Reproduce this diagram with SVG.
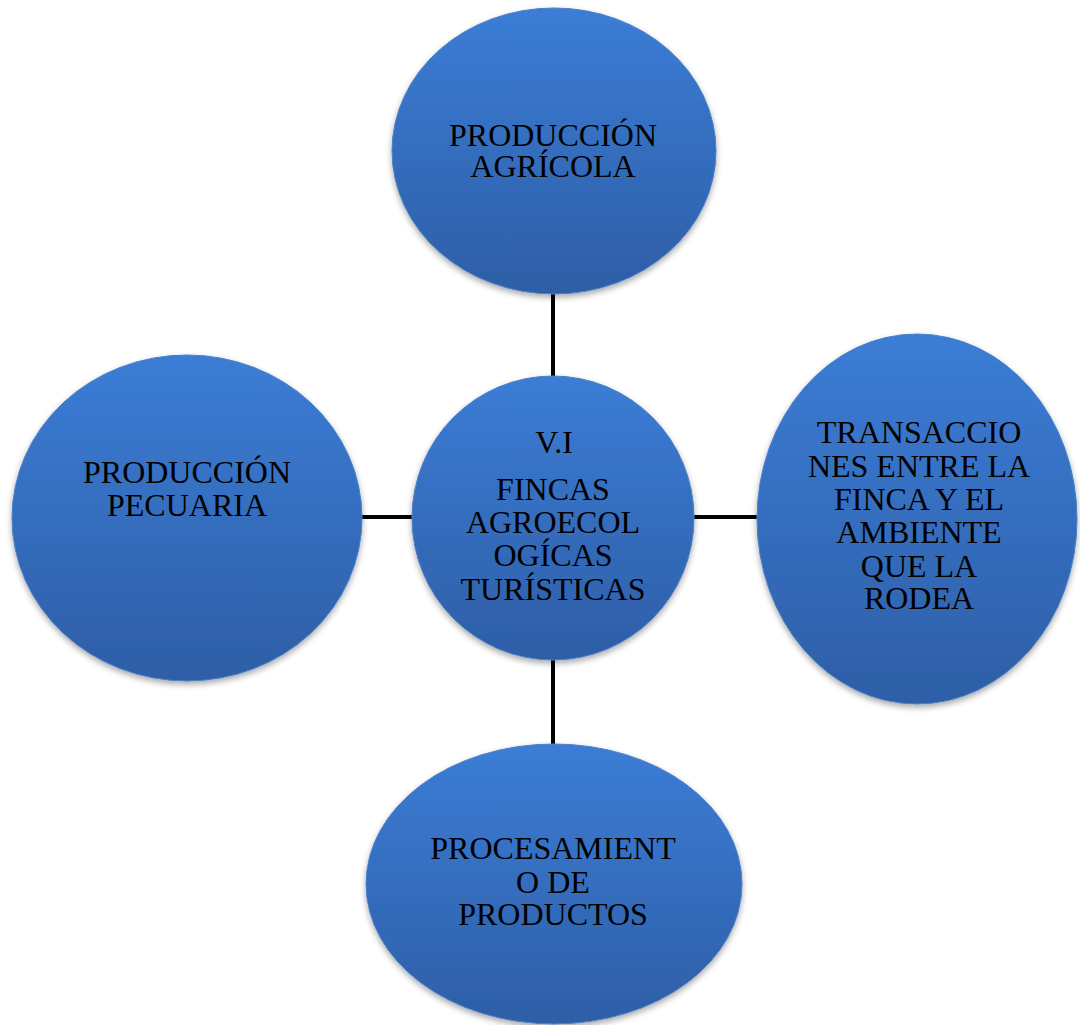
<svg xmlns="http://www.w3.org/2000/svg" width="1080" height="1025" viewBox="0 0 1080 1025">
<defs>
<linearGradient id="g" x1="0" y1="0" x2="0" y2="1">
<stop offset="0" stop-color="#3b7dd6"/>
<stop offset="1" stop-color="#2e5ea6"/>
</linearGradient>
<filter id="sh" x="-10%" y="-10%" width="120%" height="125%">
<feGaussianBlur in="SourceAlpha" stdDeviation="3"/>
<feOffset dx="0" dy="3" result="b"/>
<feComponentTransfer><feFuncA type="linear" slope="0.35"/></feComponentTransfer>
<feMerge><feMergeNode/><feMergeNode in="SourceGraphic"/></feMerge>
</filter>
</defs>
<style>
.n{fill:url(#g);stroke:#4a7fc8;stroke-width:1;filter:url(#sh)}
.t{font-family:"Liberation Serif","Times New Roman",serif;font-size:32px;fill:#000;text-anchor:middle}
.c{stroke:#000;stroke-width:4;fill:none}
</style>
<rect width="1080" height="1025" fill="#fff"/>
<g id="connectors">
<line class="c" x1="553" y1="292" x2="553" y2="378"/>
<line class="c" x1="553" y1="658" x2="553" y2="746"/>
<line class="c" x1="361" y1="517" x2="414" y2="517"/>
<line class="c" x1="692" y1="517" x2="760" y2="517"/>
</g>
<g id="node-top">
<ellipse class="n" cx="554" cy="151" rx="162" ry="143"/>
<text class="t" x="553" y="146">PRODUCCIÓN</text>
<text class="t" x="553" y="177">AGRÍCOLA</text>
</g>
<g id="node-center">
<ellipse class="n" cx="553" cy="518" rx="141" ry="142"/>
<text class="t" x="554" y="453">V.I</text>
<text class="t" x="553" y="500">FINCAS</text>
<text class="t" x="553" y="533">AGROECOL</text>
<text class="t" x="553" y="566">OGÍCAS</text>
<text class="t" x="553" y="600">TURÍSTICAS</text>
</g>
<g id="node-right">
<ellipse class="n" cx="917" cy="519" rx="160" ry="185"/>
<text class="t" x="919" y="443">TRANSACCIO</text>
<text class="t" x="919" y="477">NES ENTRE LA</text>
<text class="t" x="919" y="510">FINCA Y EL</text>
<text class="t" x="919" y="543">AMBIENTE</text>
<text class="t" x="919" y="577">QUE LA</text>
<text class="t" x="919" y="609">RODEA</text>
</g>
<g id="node-left">
<ellipse class="n" cx="187" cy="518" rx="175" ry="163"/>
<text class="t" x="187" y="483">PRODUCCIÓN</text>
<text class="t" x="187" y="516">PECUARIA</text>
</g>
<g id="node-bottom">
<ellipse class="n" cx="554" cy="884" rx="188" ry="140"/>
<text class="t" x="553" y="859">PROCESAMIENT</text>
<text class="t" x="553" y="893">O DE</text>
<text class="t" x="553" y="925">PRODUCTOS</text>
</g>
</svg>
